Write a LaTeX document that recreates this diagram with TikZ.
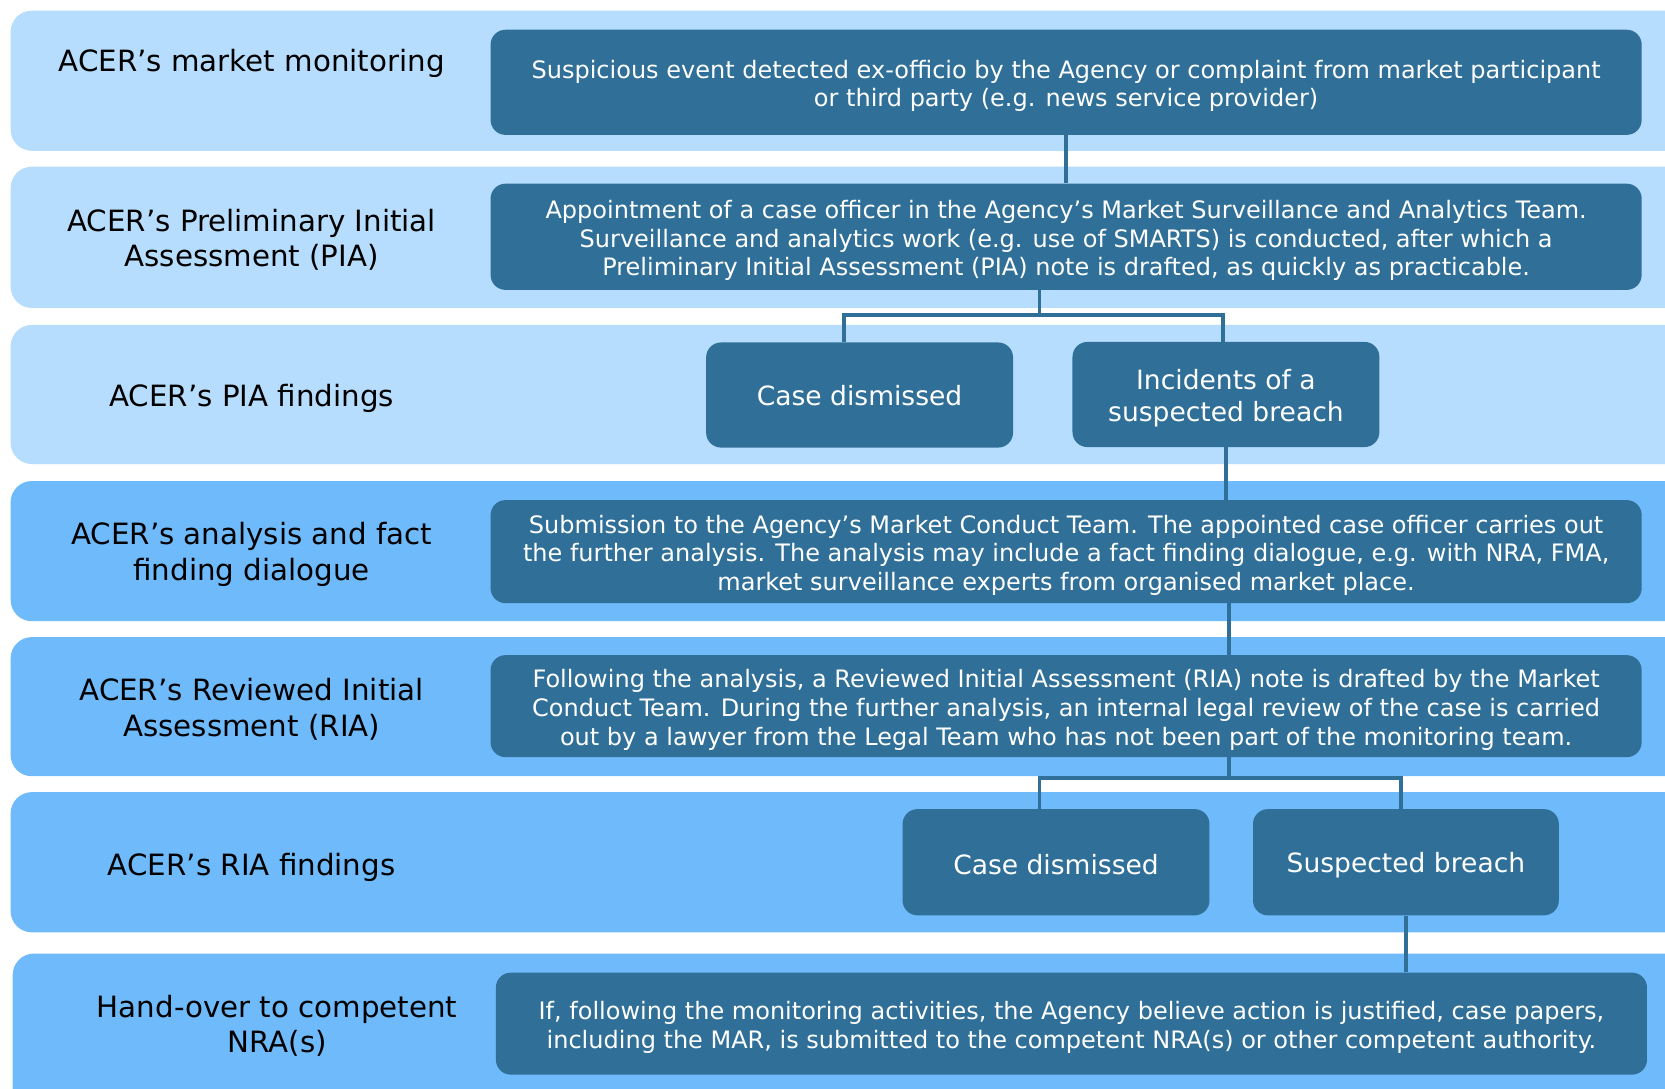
\documentclass[tikz,border=0pt]{standalone}
\usepackage{fontspec}
\setmainfont{DejaVu Sans}
\usepackage{tikz}
\usetikzlibrary{positioning, calc}
\definecolor{bandpale}{RGB}{182,221,253}
\definecolor{bandmid}{RGB}{110,186,251}
\definecolor{actblue}{RGB}{47,111,152}
\tikzset{
  band/.style={rounded corners=20pt},
  stagelabel/.style={align=center, text=black, font=\fontsize{27.6}{33.5}\selectfont},
  actbox/.style={fill=actblue, rounded corners=14pt, inner sep=0pt, minimum width=1084pt},
  outcome/.style={actbox, minimum width=289pt, minimum height=99pt},
  % texts sit a little below the middle of their boxes
  acttext/.style={text=white, align=center, inner sep=0pt, font=\fontsize{22.6}{27}\selectfont},
  outtext/.style={acttext, font=\fontsize{25}{30}\selectfont},
  link/.style={draw=actblue, line width=3.6pt}
}
\begin{document}
\begin{tikzpicture}[x=1pt, y=-1pt]
  \useasboundingbox (0,0) rectangle (1568,1025);
  \fill[white] (0,0) rectangle (1568,1025);

  % the seven stage bands
  \fill[bandpale, band] (10,10) rectangle (1590,142);
  \fill[bandpale, band] (10,157) rectangle (1590,290);
  \fill[bandpale, band] (10,306) rectangle (1590,437);
  \fill[bandmid, band] (10,453) rectangle (1590,585);
  \fill[bandmid, band] (10,600) rectangle (1590,731);
  \fill[bandmid, band] (10,746) rectangle (1590,878);
  \fill[bandmid, band] (12,898) rectangle (1590,1060);

  % stage names
  \node[stagelabel] (lbmon) at (237,59.5) {ACER’s market monitoring};
  \node[stagelabel] (lbpia) at (237,226) {ACER’s Preliminary Initial\\Assessment (PIA)};
  \node[stagelabel] (lbpiaf) at (237,375.5) {ACER’s PIA findings};
  \node[stagelabel] (lbfact) at (237,522) {ACER’s analysis and fact\\finding dialogue};
  \node[stagelabel] (lbria) at (237,668) {ACER’s Reviewed Initial\\Assessment (RIA)};
  \node[stagelabel] (lbriaf) at (237,816.5) {ACER’s RIA findings};
  \node[stagelabel] (lbnra) at (261,966) {Hand-over to competent\\NRA(s)};

  % activity boxes
  \node[actbox, minimum height=99pt] (event) at (1004,77.5) {};
  \node[actbox, minimum height=100pt] (pia) at (1004,223) {};
  \node[outcome] (dismA) at (809.5,372) {};
  \node[outcome] (breachA) at (1154.5,371.5) {};
  \node[actbox, minimum height=97pt] (fact) at (1004,519.5) {};
  \node[actbox, minimum height=96pt] (ria) at (1004,665) {};
  \node[outcome, minimum height=100pt] (dismB) at (994.5,812) {};
  \node[outcome, minimum height=100pt, minimum width=288pt] (breachB) at (1324,812) {};
  \node[actbox, minimum height=96pt] (handover) at (1009,964) {};

  % their texts
  \node[acttext] (eventtxt) at ([yshift=-3.5pt]event.center)
    {Suspicious event detected ex-officio by the Agency or complaint from market participant\\
     or third party (e.g. news service provider)};
  \node[acttext] (piatxt) at ([yshift=-3.5pt]pia.center)
    {Appointment of a case officer in the Agency’s Market Surveillance and Analytics Team.\\
     Surveillance and analytics work (e.g. use of SMARTS) is conducted, after which a\\
     Preliminary Initial Assessment (PIA) note is drafted, as quickly as practicable.};
  \node[outtext] (dismAtxt) at ([yshift=-1pt]dismA.center) {Case dismissed};
  \node[outtext] (breachAtxt) at ([yshift=-3.5pt]breachA.center) {Incidents of a\\suspected breach};
  \node[acttext] (facttxt) at ([yshift=-3.5pt]fact.center)
    {Submission to the Agency’s Market Conduct Team. The appointed case officer carries out\\
     the further analysis. The analysis may include a fact finding dialogue, e.g. with NRA, FMA,\\
     market surveillance experts from organised market place.};
  \node[acttext] (riatxt) at ([yshift=-3.5pt]ria.center)
    {Following the analysis, a Reviewed Initial Assessment (RIA) note is drafted by the Market\\
     Conduct Team. During the further analysis, an internal legal review of the case is carried\\
     out by a lawyer from the Legal Team who has not been part of the monitoring team.};
  \node[outtext] (dismBtxt) at ([yshift=-2pt]dismB.center) {Case dismissed};
  \node[outtext] (breachBtxt) at ([yshift=-3pt]breachB.center) {Suspected breach};
  \node[acttext] (handovertxt) at ([yshift=-3.5pt]handover.center)
    {If, following the monitoring activities, the Agency believe action is justified, case papers,\\
     including the MAR, is submitted to the competent NRA(s) or other competent authority.};

  % connectors
  \coordinate (forkA) at (979,297);
  \coordinate (forkB) at (1157,733);
  \draw[link] (event.south) -- (pia.north);
  \draw[link] (pia.south -| forkA) -- (forkA);
  \draw[link] ([xshift=-14.5pt]dismA.north) |- (forkA) -| ([xshift=-2.5pt]breachA.north);
  \draw[link] (breachA.south) -- (breachA.south |- fact.north);
  \draw[link] (fact.south -| forkB) -- (ria.north -| forkB);
  \draw[link] (ria.south -| forkB) -- (forkB);
  \draw[link] ([xshift=-15.5pt]dismB.north) |- (forkB) -| ([xshift=-5pt,yshift=-2pt]breachB.north);
  \draw[link] (breachB.south) -- (breachB.south |- handover.north);
\end{tikzpicture}
\end{document}
